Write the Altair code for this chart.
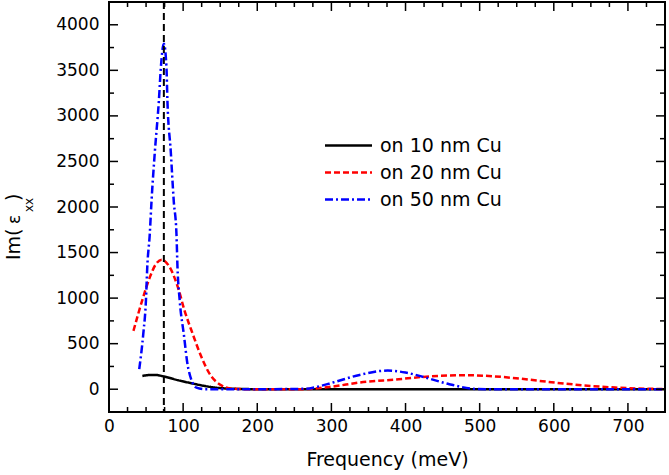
import altair as alt
import pandas as pd

FONT = "DejaVu Sans"

# ---- data ----
series_names = ["on 10 nm Cu", "on 20 nm Cu", "on 50 nm Cu"]
series_colors = ["#000000", "#ff0000", "#0000ff"]
series_dashes = [[1, 0], [6, 3], [8, 3, 2, 3]]

x_10 = [45, 55, 62, 74, 93, 111, 129, 145, 165, 190, 220, 300, 400, 500, 600, 750]
y_10 = [146, 156, 157, 140, 99, 66, 36, 16, 6, 1, 0, 0, 0, 0, 0, 0]

x_20 = [33, 46, 55, 63, 71, 82, 93, 102, 113, 125, 136, 149, 167, 190, 257,
        300, 338, 391, 423, 481, 549, 593, 638, 683, 728, 750]
y_20 = [641, 1007, 1227, 1370, 1422, 1337, 1117, 861, 605, 347, 165, 55, 5, 0, 0,
        28, 73, 110, 135, 154, 121, 80, 44, 18, 5, 3]

x_50 = [40.8, 46.2, 49.8, 51.6, 55, 57.4, 61.9, 67.3, 70, 74, 77.5, 78.8, 83.3,
        87.3, 91, 92.4, 95.4, 100.9, 106.7, 118, 130, 200, 266, 280, 302, 338,
        376, 400, 427, 459, 495, 520, 750]
y_50 = [220, 605, 971, 1337, 1704, 2070, 2612, 3170, 3536, 3793, 3536, 3170, 2612,
        2070, 1704, 1337, 971, 605, 238, 18, 0, 0, 5, 25, 73, 157,
        205, 183, 128, 55, 3, 0, 0]

vline_x = [74]

x_domain = [0, 750]
y_domain = [-250, 4250]
x_major = [0, 100, 200, 300, 400, 500, 600, 700]
x_minor = [25, 50, 75, 125, 150, 175, 225, 250, 275, 325, 350, 375, 425, 450, 475,
           525, 550, 575, 625, 650, 675, 725, 750]
y_major = [0, 500, 1000, 1500, 2000, 2500, 3000, 3500, 4000]
y_minor = [250, 750, 1250, 1750, 2250, 2750, 3250, 3750]

x_title = "Frequency (meV)"
y_title_pieces = ["Im(", "ε", "xx", ")"]

# ---- build tables ----
rows = []
for name, xs, ys in zip(series_names, [x_10, x_20, x_50], [y_10, y_20, y_50]):
    for a, b in zip(xs, ys):
        rows.append({"freq": a, "val": b, "series": name})
df = pd.DataFrame(rows)

W, H = 556, 410
xs_ = alt.Scale(domain=x_domain, nice=False, zero=False)
ys_ = alt.Scale(domain=y_domain, nice=False, zero=False)

x_axis = alt.Axis(values=x_major, ticks=False, domain=False, grid=False,
                  labelFontSize=17, labelFont=FONT, labelColor="black",
                  labelPadding=6, title=x_title, titleFont=FONT,
                  titleFontSize=19, titleFontWeight="normal",
                  titleColor="black", titlePadding=16, labelFlush=False,
                  format="d")
y_axis = alt.Axis(values=y_major, ticks=False, domain=False, grid=False,
                  labelFontSize=17, labelFont=FONT, labelColor="black",
                  labelPadding=10, title=None, labelFlush=False, format="d")


def X(field):
    return alt.X(field, scale=xs_, axis=x_axis, title=x_title)


def Y(field):
    return alt.Y(field, scale=ys_, axis=y_axis, title=None)


# long horizontal line symbol: custom path scaled by sqrt(size)/2
leg = alt.Legend(title=None, orient="none", legendX=230, legendY=134,
                 symbolType="M-4,0L4,0", symbolSize=138,
                 symbolStrokeWidth=2.5, labelFontSize=19,
                 labelFont=FONT, labelColor="black",
                 labelOffset=22, rowPadding=7, padding=0)

lines = alt.Chart(df).mark_line(strokeWidth=2.5, interpolate="monotone").encode(
    x=X("freq:Q"),
    y=Y("val:Q"),
    color=alt.Color("series:N", sort=series_names,
                    scale=alt.Scale(domain=series_names, range=series_colors),
                    legend=leg),
    strokeDash=alt.StrokeDash("series:N", sort=series_names,
                              scale=alt.Scale(domain=series_names, range=series_dashes),
                              legend=leg),
)

vline = alt.Chart(pd.DataFrame({"freq": vline_x})).mark_rule(
    color="black", strokeWidth=2, strokeDash=[7, 4]
).encode(x=X("freq:Q"))


def xticks(vals, length, top):
    d = pd.DataFrame({"freq": vals})
    if top:
        enc = dict(y=alt.value(0), y2=alt.value(length))
    else:
        enc = dict(y=alt.value(H), y2=alt.value(H - length))
    return alt.Chart(d).mark_rule(color="black", strokeWidth=1.5).encode(
        x=X("freq:Q"), **enc)


def yticks(vals, length, right):
    d = pd.DataFrame({"val": vals})
    if right:
        enc = dict(x=alt.value(W), x2=alt.value(W - length))
    else:
        enc = dict(x=alt.value(0), x2=alt.value(length))
    return alt.Chart(d).mark_rule(color="black", strokeWidth=1.5).encode(
        y=Y("val:Q"), **enc)


ticks = [xticks(x_major, 9, False), xticks(x_minor, 5, False),
         xticks(x_major, 9, True), xticks(x_minor, 5, True),
         yticks(y_major, 9, False), yticks(y_minor, 5, False),
         yticks(y_major, 9, True), yticks(y_minor, 5, True)]

# y-axis title built from pieces (regular, epsilon, subscript xx, paren)
piece_specs = [(y_title_pieces[0], 19, -89, 258),
               (y_title_pieces[1], 17, -89, 222),
               (y_title_pieces[2], 12, -76, 210),
               (y_title_pieces[3], 19, -89, 199)]
ytitle = []
for txt, fs, px, py in piece_specs:
    ytitle.append(
        alt.Chart(pd.DataFrame({"t": [txt]})).mark_text(
            angle=270, align="left", baseline="alphabetic", font=FONT,
            fontSize=fs, color="black"
        ).encode(text="t:N", x=alt.value(px), y=alt.value(py))
    )

chart = alt.layer(lines, vline, *ticks, *ytitle).properties(
    width=W, height=H,
    autosize=alt.AutoSizeParams(type="none"),
    padding={"left": 109, "top": 2, "right": 4, "bottom": 63},
).configure(
    background="white",
    view=alt.ViewConfig(stroke="black", strokeWidth=2),
)

chart.save("out.html", embed_options={"renderer": "svg", "actions": False})
